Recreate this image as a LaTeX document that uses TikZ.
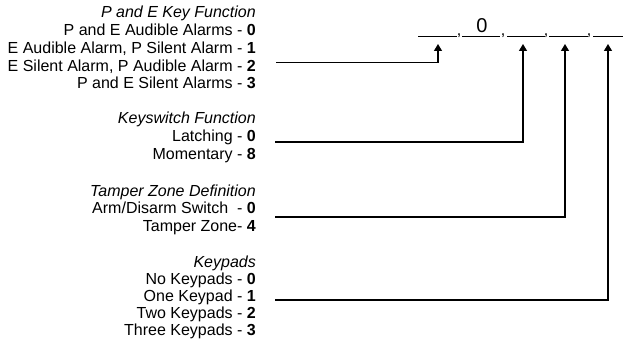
\documentclass[tikz,border=0pt]{standalone}
\usepackage{fontspec}
\setmainfont{Liberation Sans}
\usetikzlibrary{arrows.meta}
\newcommand\optsize{\fontsize{16}{17.7}\selectfont}

\begin{document}
\begin{tikzpicture}[
  x=1pt,y=-1pt,
  opt/.style={anchor=base east,inner sep=0pt,font=\optsize},
  head/.style={opt,font=\optsize\itshape},
  feed/.style={line width=1.2pt,-{Triangle[width=8pt,length=7pt]}},
  blank/.style={line width=0.6pt},
]
\useasboundingbox (0,0) rectangle (623,342);
% P and E key function
\node[head] (pe-head) at (256,18) {P and E Key Function};
\node[opt] (pe0) at (256,35.7) {P and E Audible Alarms - \textbf{0}};
\node[opt] (pe1) at (256,53.4) {E Audible Alarm, P Silent Alarm - \textbf{1}};
\node[opt] (pe2) at (256,71.1) {E Silent Alarm, P Audible Alarm - \textbf{2}};
\node[opt] (pe3) at (256,88.8) {P and E Silent Alarms - \textbf{3}};
% keyswitch function
\node[head] (ks-head) at (256,124) {Keyswitch Function};
\node[opt] (ks0) at (256,141.7) {Latching - \textbf{0}};
\node[opt] (ks8) at (256,159.4) {Momentary - \textbf{8}};
% tamper zone
\node[head] (tz-head) at (256,196) {Tamper Zone Definition};
\node[opt] (tz0) at (256,213.7) {Arm/Disarm Switch~ - \textbf{0}};
\node[opt] (tz4) at (256,231.4) {Tamper Zone- \textbf{4}};
% keypads
\node[head] (kp-head) at (256,267) {Keypads};
\node[opt] (kp0) at (256,284.2) {No Keypads - \textbf{0}};
\node[opt] (kp1) at (256,301.4) {One Keypad - \textbf{1}};
\node[opt] (kp2) at (256,318.6) {Two Keypads - \textbf{2}};
\node[opt] (kp3) at (256,335.8) {Three Keypads - \textbf{3}};

% option template
\foreach \a/\b in {418/457,462/500,507/545,549/588,593/623}
  \draw[blank] (\a,36) -- (\b,36);
\foreach \x [count=\i] in {459,503,546,589}
  \node[opt,anchor=base] (comma\i) at (\x,36) {,};
\node[opt,anchor=base,font=\fontsize{20}{20}\selectfont] (zero) at (482,33) {0};

% connectors
\coordinate (pe-in) at (276,62.7);
\coordinate (ks-in) at (275,142);
\coordinate (tz-in) at (275,217);
\coordinate (kp-in) at (275,300);
\coordinate (pe-tip) at (438,44);
\coordinate (ks-tip) at (523,44);
\coordinate (tz-tip) at (565,44);
\coordinate (kp-tip) at (608,44);
\draw[feed] (pe-in) -| (pe-tip);
\draw[feed] (ks-in) -| (ks-tip);
\draw[feed] (tz-in) -| (tz-tip);
\draw[feed] (kp-in) -| (kp-tip);
\end{tikzpicture}
\end{document}
